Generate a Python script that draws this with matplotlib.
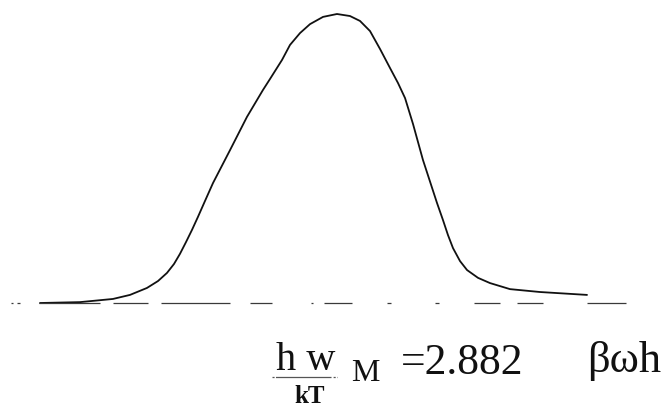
import matplotlib
matplotlib.use("Agg")
import matplotlib.pyplot as plt
from matplotlib.lines import Line2D

plt.rcParams["lines.scale_dashes"] = False

# Reduced frequency x = beta*omega*hbar and relative spectral intensity
x_values = [0.094, 0.469, 0.779, 0.939, 1.098, 1.202, 1.286, 1.352, 1.408,
            1.465, 1.521, 1.577, 1.643, 1.718, 1.878, 2.037, 2.187, 2.253,
            2.366, 2.441, 2.535, 2.629, 2.751, 2.882, 3.004, 3.098, 3.192,
            3.286, 3.380, 3.455, 3.521, 3.596, 3.689, 3.821, 3.877, 3.924,
            3.971, 4.037, 4.103, 4.206, 4.318, 4.506, 4.788, 5.229]
intensity = [0.000, 0.003, 0.014, 0.028, 0.052, 0.076, 0.104, 0.135, 0.170,
             0.211, 0.253, 0.298, 0.353, 0.415, 0.529, 0.644, 0.737, 0.775,
             0.841, 0.893, 0.934, 0.965, 0.990, 1.000, 0.993, 0.976, 0.941,
             0.879, 0.813, 0.761, 0.709, 0.619, 0.495, 0.346, 0.287, 0.235,
             0.190, 0.145, 0.114, 0.087, 0.069, 0.048, 0.038, 0.028]
peak_label = "2.882"

W, H = 672, 412
fig = plt.figure(figsize=(W / 100, H / 100), dpi=100)
fig.patch.set_facecolor("white")

# axes: baseline at pixel row 303, peak at row 14
left_px, right_px = 11, 626
base_px, top_px = 303, 14
ax = fig.add_axes([left_px / W, 1 - base_px / H,
                   (right_px - left_px) / W, (base_px - top_px) / H])
ax.set_xlim(-0.178, 5.595)
ax.set_ylim(0, 1)
ax.axis("off")

ax.plot(x_values, intensity, color="#111111", lw=1.3, clip_on=False,
        solid_joinstyle="round", solid_capstyle="round")

# broken baseline
pattern_px = [2, 4, 3, 19, 61, 13, 35, 13, 69, 20, 22, 39, 2, 11, 28, 35,
              4, 44, 4, 35, 26, 17, 26, 44, 39, 10]
pattern_pt = tuple(p * 0.72 for p in pattern_px)
ax.axhline(0, color="#3a3a3a", lw=0.9, linestyle=(0, pattern_pt), clip_on=False)

serif = ["Liberation Serif", "DejaVu Serif"]


def fig_text(px, py, s, **kw):
    fig.text(px / W, 1 - py / H, s, family=serif, color="#111111", **kw)


fig_text(276, 370, "h w", fontsize=29, va="baseline", ha="left")
fig.add_artist(Line2D([272 / W, 337 / W], [1 - 377 / H, 1 - 377 / H],
                      color="#555555", lw=0.9, linestyle=(0, (1.5, 1.0, 40, 1.5))))
fig_text(294, 385, "kT", fontsize=18, fontweight="bold", va="top", ha="left")
fig_text(351, 381, "M", fontsize=23, va="baseline", ha="left")
fig_text(401, 374, "=" + peak_label, fontsize=31.5, va="baseline", ha="left")
fig_text(587, 372, "βωh", fontsize=32, va="baseline", ha="left")

fig.savefig("out.png", dpi=100, facecolor="white")
